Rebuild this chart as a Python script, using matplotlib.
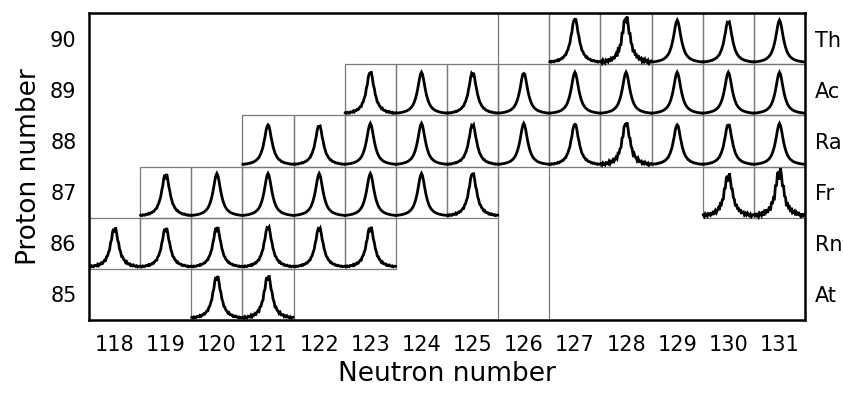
import numpy as np
import matplotlib
matplotlib.use("Agg")
import matplotlib.pyplot as plt
from matplotlib.patches import Rectangle

plt.rcParams['font.family'] = ['Liberation Sans Narrow', 'DejaVu Sans']

# chart axes
neutrons = list(range(118, 132))
protons = [85, 86, 87, 88, 89, 90]
elements = ['At', 'Rn', 'Fr', 'Ra', 'Ac', 'Th']

# measured isotopes: neutron numbers per proton number
measured = {
    90: [127, 128, 129, 130, 131],
    89: [123, 124, 125, 126, 127, 128, 129, 130, 131],
    88: [121, 122, 123, 124, 125, 126, 127, 128, 129, 130, 131],
    87: [119, 120, 121, 122, 123, 124, 125, 130, 131],
    86: [118, 119, 120, 121, 122, 123],
    85: [120, 121],
}

# peak height (fraction of cell), dip at the top, noise level for each spectrum
peak_height = {
    90: [0.88, 0.90, 0.84, 0.84, 0.84],
    89: [0.84, 0.82, 0.84, 0.82, 0.82, 0.82, 0.82, 0.82, 0.82],
    88: [0.80, 0.80, 0.82, 0.82, 0.82, 0.82, 0.82, 0.84, 0.80, 0.82, 0.82],
    87: [0.86, 0.84, 0.84, 0.84, 0.84, 0.84, 0.86, 0.84, 0.92],
    86: [0.80, 0.80, 0.82, 0.82, 0.80, 0.82],
    85: [0.86, 0.86],
}
top_dip = {
    90: [0.00, 0.00, 0.00, 0.05, 0.00],
    89: [0.00, 0.00, 0.07, 0.03, 0.00, 0.00, 0.00, 0.00, 0.00],
    88: [0.00, 0.03, 0.00, 0.00, 0.06, 0.00, 0.00, 0.00, 0.00, 0.03, 0.00],
    87: [0.08, 0.00, 0.00, 0.00, 0.00, 0.00, 0.00, 0.10, 0.10],
    86: [0.10, 0.10, 0.08, 0.04, 0.05, 0.12],
    85: [0.10, 0.08],
}
noise = {
    90: [0.010, 0.035, 0.0, 0.004, 0.0],
    89: [0.012, 0.0, 0.006, 0.0, 0.0, 0.0, 0.0, 0.0, 0.0],
    88: [0.004, 0.006, 0.0, 0.0, 0.006, 0.0, 0.008, 0.025, 0.004, 0.004, 0.0],
    87: [0.008, 0.0, 0.0, 0.0, 0.0, 0.0, 0.012, 0.030, 0.045],
    86: [0.015, 0.010, 0.008, 0.010, 0.008, 0.012],
    85: [0.012, 0.018],
}

# typical line shape, half profile at steps of 0.02 cell widths from the centre
half_offset = [0.00, 0.02, 0.04, 0.06, 0.08, 0.10, 0.12, 0.14, 0.16, 0.18,
               0.20, 0.22, 0.24, 0.26, 0.28, 0.30, 0.32, 0.34, 0.36, 0.38,
               0.40, 0.42, 0.44, 0.46, 0.48, 0.50]
half_profile = [1.00, 0.95, 0.84, 0.70, 0.57, 0.46, 0.37, 0.30, 0.24, 0.20,
                0.165, 0.14, 0.12, 0.10, 0.087, 0.076, 0.067, 0.059, 0.052,
                0.046, 0.041, 0.037, 0.033, 0.030, 0.027, 0.025]
# counting scatter pattern along a spectrum
jitter = [0.4, -0.8, 0.9, -0.3, -1.0, 0.7, 0.2, -0.6, 1.0, -0.9, 0.5, -0.2,
          0.8, -0.7, 0.1, 0.6, -1.0, 0.9, -0.4, 0.3, -0.8, 1.0, -0.5, 0.7,
          -0.1, -0.9, 0.6, 0.2, -0.6, 0.9, -0.3, 0.4, -1.0, 0.8, -0.2, 0.5,
          -0.7, 1.0, -0.4, 0.1, 0.7, -0.8, 0.3, -0.5, 0.9, -0.1, -0.6, 0.6,
          -0.9, 0.2, 0.5]

fig = plt.figure(figsize=(8.43, 3.98), dpi=100)
ax = fig.add_axes([0.1056, 0.196, 0.8494, 0.771])

grid_col = '#7a7a7a'
xs = np.concatenate([-np.array(half_offset[:0:-1]), np.array(half_offset)])
prof = np.concatenate([np.array(half_profile[:0:-1]), np.array(half_profile)])
centre = len(half_offset) - 1
jit = np.array(jitter[:len(xs)])

for z in protons:
    for k, n in enumerate(measured[z]):
        ax.add_patch(Rectangle((n - 0.5, z - 0.5), 1, 1, fill=False,
                               edgecolor=grid_col, lw=0.9, zorder=1))
        y = prof.copy()
        y[centre] -= top_dip[z][k]
        y = y * peak_height[z][k] + noise[z][k] * jit * (np.sqrt(prof) * 2 + 0.6)
        ax.plot(n + xs * 0.98, z - 0.475 + y, color='black', lw=2.0,
                solid_joinstyle='miter', zorder=3)

# N = 126 shell closure
for xv in (125.5, 126.5):
    ax.axvline(xv, color=grid_col, lw=0.9, zorder=1)

ax.set_xlim(117.5, 131.5)
ax.set_ylim(84.5, 90.5)
ax.set_xticks(neutrons)
ax.set_yticks(protons)
ax.tick_params(length=0, labelsize=15)
ax.tick_params(axis='x', pad=11)
ax.tick_params(axis='y', pad=9)
for s in ax.spines.values():
    s.set_linewidth(1.8)

ax.set_xlabel('Neutron number', fontsize=19, labelpad=4)
ax.set_ylabel('Proton number', fontsize=19, labelpad=6)

ax2 = ax.twinx()
ax2.set_ylim(84.5, 90.5)
ax2.set_yticks(protons)
ax2.set_yticklabels(elements)
ax2.tick_params(length=0, labelsize=15, pad=7)
for s in ax2.spines.values():
    s.set_visible(False)

fig.savefig('out.png', dpi=100)
